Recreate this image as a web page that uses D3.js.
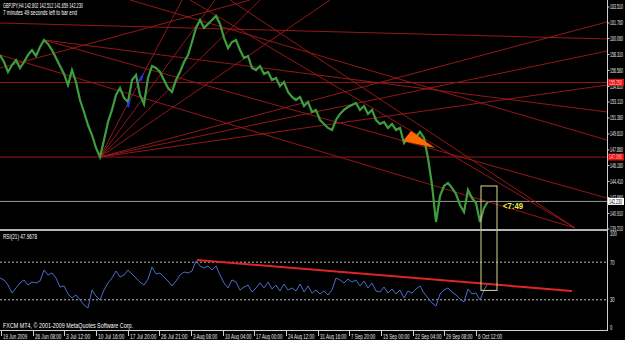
<!DOCTYPE html>
<html><head><meta charset="utf-8">
<script src="https://cdn.jsdelivr.net/npm/d3@7"></script>
<style>
body{margin:0;background:#000}
svg{display:block}
text{font-family:"Liberation Sans",Arial,sans-serif}
</style>
</head><body><div id="chart"></div><script>
// GBPJPY H4 closes, one value every 4 bars
const priceClose = [158.26,157.49,156.40,157.16,157.71,156.83,157.49,158.26,158.80,158.15,159.13,159.90,159.46,158.80,157.93,157.05,156.18,154.97,156.61,155.30,
  153.33,152.02,150.59,149.50,148.08,147.09,148.95,150.92,152.24,153.88,154.64,153.55,153.11,155.52,156.07,153.88,152.89,155.74,157.05,156.83,
  156.40,155.52,154.64,154.21,155.52,156.40,157.49,158.26,159.68,161.21,162.09,161.21,161.65,162.09,162.53,161.65,160.12,159.02,159.68,159.90,
  158.80,157.93,158.15,156.83,156.61,157.05,156.18,156.40,155.52,155.74,154.86,155.30,154.21,153.66,153.33,153.66,152.67,153.11,152.02,152.24,
  151.14,150.70,150.27,150.05,151.14,151.80,152.24,152.56,152.78,153.00,152.24,152.67,151.80,152.24,151.14,150.70,150.92,150.27,150.70,150.05,
  150.27,148.62,149.17,148.95,149.28,149.83,149.17,146.98,144.03,139.98,142.82,143.92,144.25,143.70,143.04,141.84,141.07,143.48,142.60,142.06,
  139.98,141.51,142.23];
const rsiValues = [53.2,51.1,45.7,37.2,42.6,47.9,51.1,45.7,48.9,47.9,50.0,61.7,56.4,58.5,53.2,43.6,44.7,36.2,31.9,35.1,
  29.8,24.5,21.3,40.4,34.0,29.8,40.4,47.9,53.2,60.6,54.3,56.4,61.7,57.4,53.2,48.9,45.7,52.1,64.9,57.4,
  58.5,54.3,50.0,44.7,50.0,56.4,59.6,58.5,60.6,71.3,66.0,63.8,66.0,61.7,66.0,56.4,47.9,42.6,51.1,48.9,
  40.4,43.6,45.7,38.3,42.6,47.9,42.6,48.9,41.5,45.7,39.4,46.8,40.4,42.6,39.4,46.8,38.3,44.7,37.2,40.4,
  36.2,39.4,35.1,40.4,53.2,51.1,47.9,52.1,48.9,51.1,44.7,50.0,42.6,47.9,39.4,38.3,43.6,37.2,41.5,36.2,
  40.4,31.9,39.4,37.2,41.5,44.7,37.2,31.9,26.6,23.4,36.2,40.4,42.6,38.3,35.1,30.9,27.7,41.5,36.2,37.2,
  29.8,40.4,47.97];
const barStep = 4;
const priceTicks = [163.510,161.760,160.060,158.310,156.560,154.810,153.110,151.360,149.610,147.860,146.160,144.410,142.660,140.910,139.210];
const rsiTicks = [100,70,30,0];
const rsiLevels = [70,30];
const timeLabels = ["19 Jun 2009","26 Jun 08:00","3 Jul 12:00","10 Jul 16:00","17 Jul 20:00","26 Jul 21:00","3 Aug 08:00","10 Aug 04:00",
  "17 Aug 00:00","24 Aug 12:00","31 Aug 16:00","7 Sep 20:00","15 Sep 00:00","22 Sep 04:00","29 Sep 08:00","6 Oct 12:00"];
const timeTickBars = [1,33,64,96,128,159,191,223,254,286,318,349,381,413,444,476];
// trendlines [bar1, price1, bar2, price2]
const trendLines = [
  [0,161.76,607,160.01],[0,155.25,607,155.25],[0,147.09,607,147.09],
  [100,147.09,607,161.87],[100,147.09,607,158.69],[100,147.09,607,154.97],
  [100,147.09,182,164.28],[100,147.09,215,164.28],[100,147.09,260,164.28],[100,147.09,330,164.28],
  [44,159.90,607,152.02],[44,159.90,607,142.60],[0,158.26,575,139.32],
  [190,164.28,575,139.32],[0,156.83,250,164.28],[130,164.28,607,148.95],[230,164.28,575,139.32]
];
const markerLabels = [155.25, 147.09];
const bidPrice = 142.23;
const rsiTrend = [197,72.3,572,39.4];
const blueTriangles = [[[137,155.3],[144,156.4],[142,155.5]],[[126,152.7],[131,153.6],[129,152.5]]];
const orangeTriangle = [[403,148.84],[411,149.94],[435,148.08]];
const timerBox = [481,143.92,497,40];

const W = 625, H = 340, plotR = 607;
const svg = d3.select("#chart").append("svg").attr("width", W).attr("height", H).style("background", "#000");

const x = d3.scaleLinear().domain([0, 607]).range([0, plotR]);
const y = d3.scaleLinear().domain([139.21, 163.51]).range([229, 7]);
const yr = d3.scaleLinear().domain([0, 100]).range([328, 234]);

// small bitmap-like text helper
const label = (sel, txt, px, py, len, col, size) => sel.append("text")
  .attr("x", px).attr("y", py).text(txt).attr("fill", col || "#e8e8e8")
  .attr("font-size", size || 6.5).attr("textLength", len).attr("lengthAdjust", "spacingAndGlyphs");

svg.append("clipPath").attr("id", "mainClip").append("rect").attr("x", 0).attr("y", 0).attr("width", plotR).attr("height", 229);

const main = svg.append("g").attr("clip-path", "url(#mainClip)");

// bid line
main.append("line").attr("x1", 0).attr("x2", plotR).attr("y1", y(bidPrice)).attr("y2", y(bidPrice))
  .attr("stroke", "#9a9a9a").attr("stroke-width", 1);

// trendlines
main.selectAll("line.tl").data(trendLines).join("line").attr("class", "tl")
  .attr("x1", d => x(d[0])).attr("y1", d => y(d[1])).attr("x2", d => x(d[2])).attr("y2", d => y(d[3]))
  .attr("stroke", "#a31a1a").attr("stroke-width", 0.9);

// price line
main.append("path").datum(priceClose)
  .attr("d", d3.line().x((d, i) => x(i * barStep)).y(d => y(d)))
  .attr("fill", "none").attr("stroke", "#3e9e3e").attr("stroke-width", 2.2);

const tri = d3.line().x(d => x(d[0])).y(d => y(d[1]));
main.selectAll("path.bt").data(blueTriangles).join("path").attr("class", "bt")
  .attr("d", d => tri(d) + "Z").attr("fill", "#2233ee");
main.append("path").attr("d", tri(orangeTriangle) + "Z").attr("fill", "#ff6a00");

// RSI panel
svg.selectAll("line.lvl").data(rsiLevels).join("line").attr("class", "lvl")
  .attr("x1", 0).attr("x2", plotR).attr("y1", d => yr(d)).attr("y2", d => yr(d))
  .attr("stroke", "#bbbbbb").attr("stroke-dasharray", "2,2").attr("stroke-width", 1);
svg.append("path").datum(rsiValues)
  .attr("d", d3.line().x((d, i) => x(i * barStep)).y(d => yr(d)))
  .attr("fill", "none").attr("stroke", "#4a6cc8").attr("stroke-width", 1);
svg.append("line").attr("x1", x(rsiTrend[0])).attr("y1", yr(rsiTrend[1])).attr("x2", x(rsiTrend[2])).attr("y2", yr(rsiTrend[3]))
  .attr("stroke", "#e02424").attr("stroke-width", 2);

// timer box spanning both panels
svg.append("rect").attr("x", x(timerBox[0])).attr("y", y(timerBox[1]))
  .attr("width", x(timerBox[2]) - x(timerBox[0])).attr("height", yr(timerBox[3]) - y(timerBox[1]))
  .attr("fill", "none").attr("stroke", "#d8d890").attr("stroke-width", 1);
label(svg, "<7:49", 503, y(bidPrice) + 8, 20, "#eeee44", 9).attr("font-weight", "bold");

// frame
svg.append("rect").attr("x", 0).attr("y", 229).attr("width", plotR).attr("height", 2).attr("fill", "#b4b4b4");
svg.append("line").attr("x1", plotR + 0.5).attr("x2", plotR + 0.5).attr("y1", 0).attr("y2", 331).attr("stroke", "#d0d0d0");
svg.append("line").attr("x1", 0).attr("x2", plotR + 1).attr("y1", 330.5).attr("y2", 330.5).attr("stroke", "#d0d0d0");

// price axis
const pa = svg.append("g");
pa.selectAll("line").data(priceTicks).join("line")
  .attr("x1", plotR).attr("x2", plotR + 2.5).attr("y1", d => y(d)).attr("y2", d => y(d)).attr("stroke", "#d0d0d0");
priceTicks.forEach(d => label(pa, d.toFixed(3), plotR + 3, y(d) + 2.3, 13));

markerLabels.forEach(p => {
  svg.append("rect").attr("x", plotR + 1).attr("y", y(p) - 3.5).attr("width", 16).attr("height", 7).attr("fill", "#e01010");
  label(svg, p.toFixed(3), plotR + 2, y(p) + 2.3, 13, "#ffd0d0");
});
svg.append("rect").attr("x", plotR + 1).attr("y", y(bidPrice) - 3.5).attr("width", 16).attr("height", 7).attr("fill", "#fff");
label(svg, bidPrice.toFixed(3), plotR + 2, y(bidPrice) + 2.3, 13, "#000");

rsiTicks.forEach(d => label(svg, String(d), plotR + 3, yr(d) + 2.3, String(d).length * 2.3));

// time axis
const ta = svg.append("g");
ta.selectAll("line").data(timeTickBars).join("line")
  .attr("x1", d => x(d) + 0.5).attr("x2", d => x(d) + 0.5).attr("y1", 331).attr("y2", 336).attr("stroke", "#d0d0d0");
timeLabels.forEach((d, i) => label(ta, d, x(timeTickBars[i]) + 2, 339, d.length * 2.2));

// captions
label(svg, "GBPJPY,H4  142.802 142.512 141.659 142.230", 3, 8, 80, "#fff");
label(svg, "7 minutes 49 seconds left to bar end", 3, 15, 74, "#fff");
label(svg, "RSI(21) 47.9678", 3, 239, 34, "#fff");
label(svg, "FXCM MT4, © 2001-2009 MetaQuotes Software Corp.", 3, 328, 130, "#fff");
</script></body></html>
